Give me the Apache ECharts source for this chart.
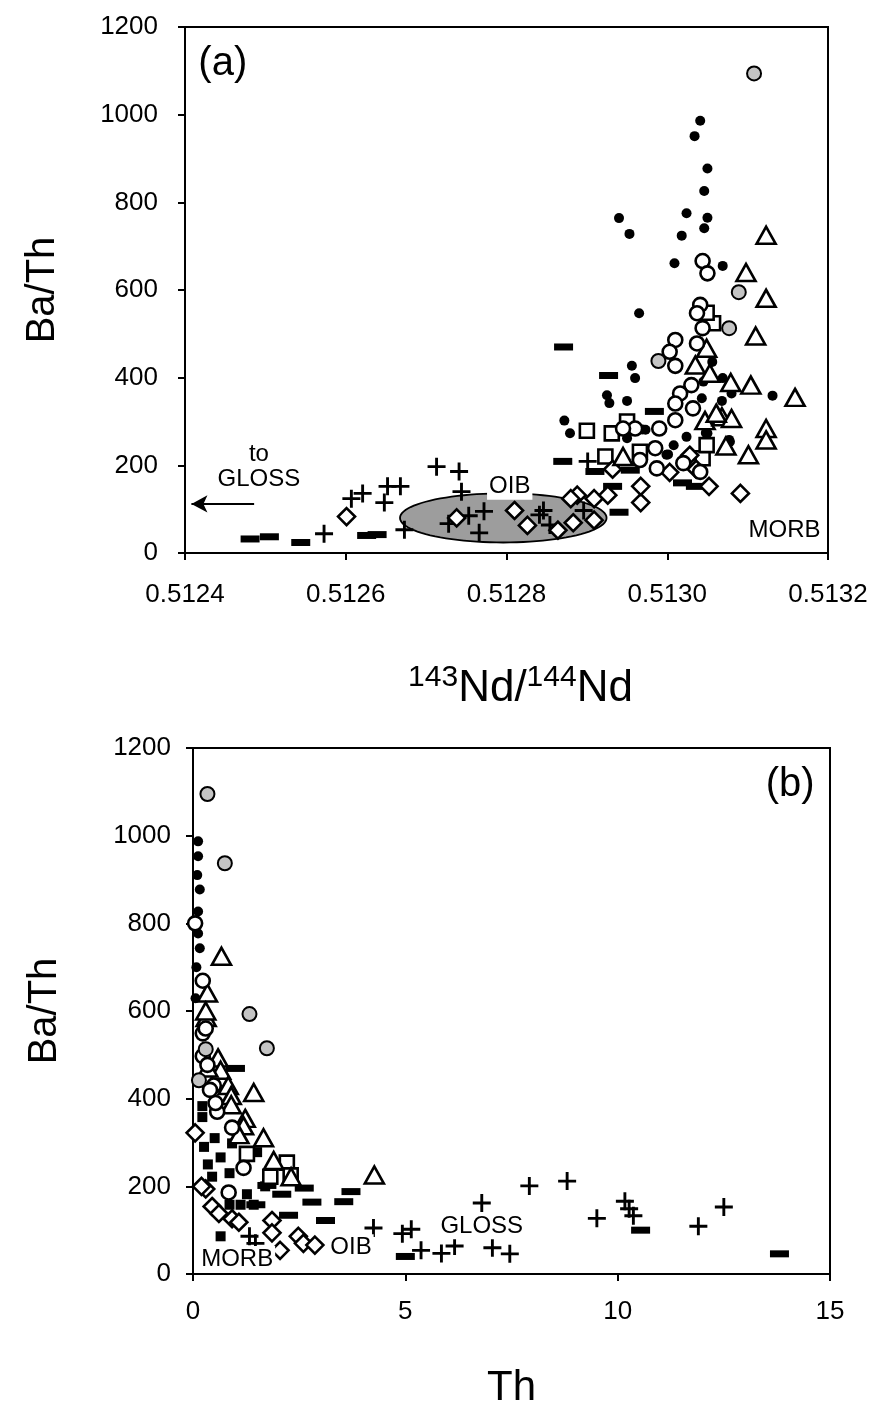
<!DOCTYPE html>
<html>
<head>
<meta charset="utf-8">
<script src="https://cdn.jsdelivr.net/npm/echarts@6/dist/echarts.min.js"></script>
<style>
html,body{margin:0;padding:0;background:#fff;}
#chart{width:883px;height:1410px;}
</style>
</head>
<body>
<div id="chart"></div>
<script>
// ---------- Panel (a): Ba/Th vs 143Nd/144Nd ----------
const aFilledCircle = [[0.513041,986],[0.513034,951],[0.513050,877],[0.513046,826],[0.512940,764],[0.512953,728],[0.513024,775],[0.513050,765],[0.513046,741],[0.513018,724],[0.513009,661],[0.513069,655],[0.512965,547],[0.512956,427],[0.512960,399],[0.512928,342],[0.512950,347],[0.512925,360],[0.512872,302],[0.512879,273],[0.513131,359],[0.512973,281],[0.513043,353],[0.513068,347],[0.513080,364],[0.513045,391],[0.513056,436],[0.513069,399],[0.513050,273],[0.513024,265],[0.513008,246],[0.512999,224],[0.513078,254],[0.512950,262],[0.512969,282],[0.513001,225],[0.513048,274],[0.513077,258]];
const aOpenCircle = [[0.513044,666],[0.513050,638],[0.513041,566],[0.513037,547],[0.513044,513],[0.513037,478],[0.513010,486],[0.513003,459],[0.513010,427],[0.513030,383],[0.513016,364],[0.513010,341],[0.513032,330],[0.513010,303],[0.512990,284],[0.512960,284],[0.512945,284],[0.512985,239],[0.512966,212],[0.512987,193],[0.513020,205],[0.513041,185]];
const aGrayCircle = [[0.513108,1094],[0.513089,595],[0.513077,513],[0.512989,438]];
const aTriangle = [[0.513123,725],[0.513098,640],[0.513123,581],[0.513110,495],[0.513104,383],[0.513159,355],[0.513079,389],[0.513123,284],[0.513123,258],[0.513101,224],[0.513073,244],[0.513049,467],[0.513035,429],[0.513053,410],[0.513047,302],[0.513068,311],[0.513080,307],[0.512945,220],[0.513061,319]];
const aSquare = [[0.513057,524],[0.513049,548],[0.512900,279],[0.512931,273],[0.512950,300],[0.512923,220],[0.512966,231],[0.513044,216],[0.513049,246]];
const aDiamond = [[0.512601,83],[0.512738,80],[0.512810,97],[0.512826,63],[0.512864,52],[0.512883,69],[0.512888,132],[0.512880,124],[0.512909,124],[0.512926,132],[0.512909,75],[0.512932,191],[0.512967,115],[0.512967,152],[0.513003,184],[0.513028,223],[0.513052,152],[0.513091,136],[0.513036,191]];
const aPlus = [[0.512713,197],[0.512741,186],[0.512744,140],[0.512652,152],[0.512668,152],[0.512621,136],[0.512607,124],[0.512648,115],[0.512573,44],[0.512673,53],[0.512728,67],[0.512753,85],[0.512772,95],[0.512766,46],[0.512841,87],[0.512846,97],[0.512854,64],[0.512896,97],[0.512901,209]];
const aDash = [[0.512871,470],[0.512927,405],[0.512870,209],[0.512940,93],[0.512984,323],[0.512481,32],[0.512505,37],[0.512544,24],[0.512626,40],[0.512639,42],[0.512910,186],[0.512954,189],[0.513019,160],[0.513035,152],[0.512932,152]];
const aOIBEllipse = [[0.512796,80,0.0001285,56]]; // centre x, centre y, radius x, radius y
const aArrow = [[0.512486,112],[0.512408,112]];
const aLabels = [
  {name:'(a)', value:[0.512447,1116], size:40},
  {name:'to\nGLOSS', value:[0.512492,196], size:24},
  {name:'OIB', value:[0.512804,151], size:24, bg:true},
  {name:'MORB', value:[0.513146,52], size:24}
];
const aXTicks = [0.5124,0.5126,0.5128,0.5130,0.5132];

// ---------- Panel (b): Ba/Th vs Th ----------
const bGrayCircle = [[0.34,1095],[0.75,937],[1.33,593],[1.74,515],[0.14,442],[0.30,513]];
const bFilledCircle = [[0.12,987],[0.12,953],[0.16,877],[0.12,827],[0.12,777],[0.16,743],[0.06,629],[0.1,910],[0.08,700]];
const bOpenCircle = [[0.23,669],[0.23,549],[0.23,497],[0.34,477],[0.49,430],[0.57,370],[0.92,334],[1.19,242],[0.84,186],[0.53,390],[0.4,420],[0.3,560],[0.05,800]];
const bTriangle = [[0.67,725],[0.34,641],[0.31,585],[0.59,493],[0.65,465],[0.83,430],[0.90,407],[1.43,414],[0.90,386],[1.23,355],[1.19,338],[1.08,318],[1.66,311],[1.90,259],[2.31,222],[4.27,226],[0.3,600],[0.35,470]];
const bSquare = [[2.21,254],[1.82,222],[1.27,274],[2.3,225]];
const bFilledSquare = [[0.22,383],[0.22,358],[0.51,310],[0.26,290],[0.65,266],[0.86,230],[0.45,222],[1.27,182],[0.86,158],[0.65,86],[1.51,278],[1.12,158],[1.43,158],[0.92,298],[0.35,250],[1.7,200]];
const bDiamond = [[0.30,194],[0.45,154],[0.61,138],[0.92,126],[1.08,118],[1.86,122],[1.86,94],[2.05,54],[2.48,86],[2.60,70],[2.87,66],[0.05,322],[0.2,200]];
const bPlus = [[6.80,162],[7.92,201],[8.81,212],[9.51,127],[10.17,166],[10.27,149],[10.37,133],[11.90,109],[12.50,153],[4.25,105],[4.93,92],[5.14,102],[5.37,54],[5.85,47],[6.16,64],[7.05,60],[7.46,46],[1.33,86],[1.47,70]];
const bDash = [[1.0,469],[2.62,196],[2.8,164],[3.72,188],[3.55,165],[2.25,134],[3.12,122],[2.09,182],[1.74,202],[1.48,158],[5.0,40],[10.54,100],[13.81,46]];
const bLabels = [
  {name:'(b)', value:[14.06,1116], size:40},
  {name:'MORB', value:[1.04,34], size:24, bg:true},
  {name:'OIB', value:[3.72,61], size:24, bg:true},
  {name:'GLOSS', value:[6.8,109], size:24, bg:true}
];
const bXTicks = [0,5,10,15];
const yTicks = [0,200,400,600,800,1000,1200];

// ---------- styling ----------
const FONT = "'Liberation Sans', Arial, Helvetica, sans-serif";
const PLUS = 'path://M8.4,0H11.6V8.4H20V11.6H11.6V20H8.4V11.6H0V8.4H8.4Z';
const openStyle = {color:'#fff', borderColor:'#000', borderWidth:2.6, opacity:1};
const markerDefs = {
  filledCircle:{symbol:'circle', symbolSize:10, itemStyle:{color:'#000', opacity:1}},
  openCircle:{symbol:'circle', symbolSize:14, itemStyle:openStyle},
  grayCircle:{symbol:'circle', symbolSize:14, itemStyle:{color:'#c4c4c4', borderColor:'#000', borderWidth:2, opacity:1}},
  triangle:{symbol:'triangle', symbolSize:[19,17], itemStyle:openStyle},
  square:{symbol:'rect', symbolSize:14, itemStyle:openStyle},
  filledSquare:{symbol:'rect', symbolSize:10, itemStyle:{color:'#000', opacity:1}},
  diamond:{symbol:'diamond', symbolSize:17, itemStyle:openStyle},
  plus:{symbol:PLUS, symbolSize:18, itemStyle:{color:'#000', opacity:1}},
  dash:{symbol:'rect', symbolSize:[19,7], itemStyle:{color:'#000', opacity:1}}
};
function sc(kind, data, gi){
  const d = markerDefs[kind];
  return Object.assign({type:'scatter', xAxisIndex:gi, yAxisIndex:gi, data:data, silent:true, animation:false, z:3}, d);
}
function labelSeries(list, gi){
  return {
    type:'scatter', xAxisIndex:gi, yAxisIndex:gi, symbolSize:0, silent:true, animation:false, z:6,
    itemStyle:{opacity:1, color:'#000'},
    data:list.map(o=>({name:o.name, value:o.value, label:{
      show:true, position:'inside', formatter:'{b}', color:'#000', fontFamily:FONT, fontSize:o.size,
      lineHeight:Math.round(o.size*1.05),
      backgroundColor:o.bg?'#fff':'transparent', padding:o.bg?[1,2,0,2]:0
    }}))
  };
}
function yAxis(gi){
  return {
    type:'value', gridIndex:gi, min:0, max:1200, interval:200,
    name:'Ba/Th', nameLocation:'middle', nameGap:gi===0?122:128, nameRotate:90,
    nameTextStyle:{fontFamily:FONT, fontSize:40, color:'#000'},
    axisLine:{show:true, lineStyle:{color:'#000', width:2}},
    axisTick:{show:true, inside:false, length:7, lineStyle:{color:'#000', width:2}},
    axisLabel:{fontFamily:FONT, fontSize:26, color:'#000', margin:gi===0?27:22,
      formatter:v=>yTicks.includes(v)?String(v):''},
    splitLine:{show:false}
  };
}

const chart = echarts.init(document.getElementById('chart'), null, {renderer:'canvas'});
chart.setOption({
  backgroundColor:'#fff',
  animation:false,
  grid:[
    {left:185, top:27, width:643, height:526, show:true, borderColor:'#000', borderWidth:2, backgroundColor:'transparent'},
    {left:193, top:748, width:637, height:529, show:true, borderColor:'#000', borderWidth:2, backgroundColor:'transparent'}
  ],
  xAxis:[
    {type:'value', gridIndex:0, min:aXTicks[0], max:aXTicks[aXTicks.length-1], interval:0.0002,
     name:'{sup|143}{b|Nd/}{sup|144}{b|Nd}', nameLocation:'middle', nameGap:110,
     nameTextStyle:{fontFamily:FONT, color:'#000', padding:[0,0,0,28],
       rich:{b:{fontFamily:FONT, fontSize:44, color:'#000', lineHeight:48, verticalAlign:'bottom'},
             sup:{fontFamily:FONT, fontSize:30, color:'#000', lineHeight:48, verticalAlign:'top', padding:[0,0,16,0]}}},
     axisLine:{show:true, onZero:false, lineStyle:{color:'#000', width:2}},
     axisTick:{show:true, length:7, lineStyle:{color:'#000', width:2}},
     axisLabel:{fontFamily:FONT, fontSize:26, color:'#000', margin:29, formatter:v=>Number(v).toFixed(4)},
     splitLine:{show:false}},
    {type:'value', gridIndex:1, min:bXTicks[0], max:bXTicks[bXTicks.length-1], interval:5,
     name:'Th', nameLocation:'middle', nameGap:93,
     nameTextStyle:{fontFamily:FONT, fontSize:42, color:'#000'},
     axisLine:{show:true, onZero:false, lineStyle:{color:'#000', width:2}},
     axisTick:{show:true, length:7, lineStyle:{color:'#000', width:2}},
     axisLabel:{fontFamily:FONT, fontSize:26, color:'#000', margin:25},
     splitLine:{show:false}}
  ],
  yAxis:[yAxis(0), yAxis(1)],
  series:[
    {type:'custom', xAxisIndex:0, yAxisIndex:0, silent:true, animation:false, z:2,
     data:aOIBEllipse, encode:{x:0, y:1},
     renderItem:function(params, api){
       const c = api.coord([api.value(0), api.value(1)]);
       const s = api.size([api.value(2), api.value(3)]);
       const pts = [];
       for(let i=0;i<96;i++){const t=i/96*Math.PI*2; pts.push([c[0]+s[0]*Math.cos(t), c[1]+s[1]*Math.sin(t)]);}
       return {type:'polygon', shape:{points:pts}, style:{fill:'#9d9d9d', stroke:'#000', lineWidth:1.8}};
     }},
    sc('dash', aDash, 0),
    sc('plus', aPlus, 0),
    sc('filledCircle', aFilledCircle, 0),
    sc('square', aSquare, 0),
    sc('diamond', aDiamond, 0),
    sc('triangle', aTriangle, 0),
    sc('openCircle', aOpenCircle, 0),
    sc('grayCircle', aGrayCircle, 0),
    Object.assign(labelSeries(aLabels, 0), {
      markLine:{silent:true, animation:false, symbol:['none','arrow'], symbolSize:[13,16],
        lineStyle:{color:'#000', width:2, type:'solid', opacity:1}, label:{show:false},
        data:[[{coord:aArrow[0]},{coord:aArrow[1]}]]}
    }),
    sc('filledCircle', bFilledCircle, 1),
    sc('filledSquare', bFilledSquare, 1),
    sc('dash', bDash, 1),
    sc('plus', bPlus, 1),
    sc('square', bSquare, 1),
    sc('diamond', bDiamond, 1),
    sc('triangle', bTriangle, 1),
    sc('openCircle', bOpenCircle, 1),
    sc('grayCircle', bGrayCircle, 1),
    labelSeries(bLabels, 1)
  ]
});
</script>
</body>
</html>
